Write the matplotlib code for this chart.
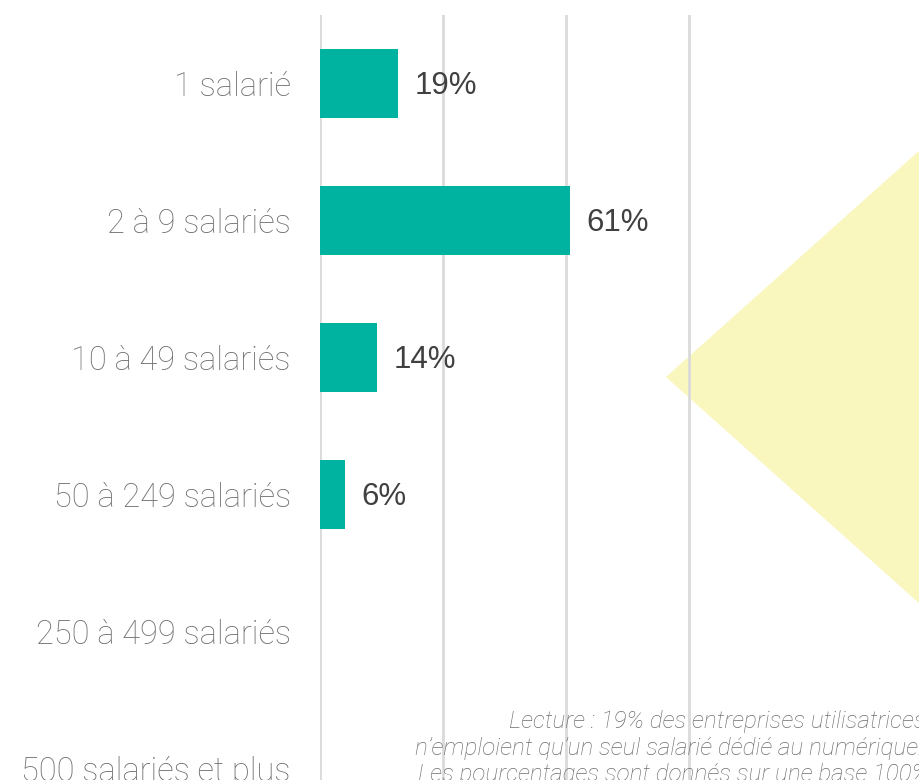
import matplotlib
matplotlib.use("Agg")
import matplotlib.pyplot as plt
from matplotlib.patches import Polygon

categories = ["1 salarié", "2 à 9 salariés", "10 à 49 salariés", "50 à 249 salariés",
              "250 à 499 salariés", "500 salariés et plus"]
values = [19, 61, 14, 6, 0, 0]
value_labels = ["19%", "61%", "14%", "6%", "", ""]
grid_ticks = [0, 30, 60, 90]
note_lines = ["Lecture : 19% des entreprises utilisatrices de la plateforme",
              "n’emploient qu’un seul salarié dédié au numérique.",
              "Les pourcentages sont donnés sur une base 100% des répondants"]

W, H = 920, 780
fig = plt.figure(figsize=(W / 100, H / 100), dpi=100)

# decorative yellow diamond (figure coords, behind axes)
cx, cy = 666, 377
diamond = Polygon([(cx / W, 1 - cy / H),
                   ((cx + 254) / W, 1 - (cy - 227) / H),
                   ((cx + 508) / W, 1 - cy / H),
                   ((cx + 254) / W, 1 - (cy + 227) / H)],
                  closed=True, transform=fig.transFigure, facecolor="#F9F6BE",
                  edgecolor="none", zorder=-5)
fig.patches.append(diamond)

# axes: x0 at 320px, 30% = 123px; top at 15px, 137px per category
x0_px, px_per = 320, 123 / 30
xmax = 100
ax_left = x0_px / W
ax_width = (xmax * px_per) / W
top_px = 15
slot = 137
ax_top = 1 - top_px / H
ax_height = len(categories) * slot / H
ax = fig.add_axes([ax_left, ax_top - ax_height, ax_width, ax_height])
ax.set_facecolor("none")
ax.patch.set_alpha(0)

y = list(range(len(categories)))
ax.barh(y, values, height=0.5, color="#00B2A0", zorder=3)
ax.set_ylim(len(categories) - 0.5, -0.5)
ax.set_xlim(0, xmax)

for yi, v, lab in zip(y, values, value_labels):
    if lab:
        ax.annotate(lab, xy=(v, yi), xytext=(12, -2), textcoords="offset points",
                    ha="left", va="center", fontsize=22.5, color="#404040",
                    family=["Liberation Sans", "DejaVu Sans"], zorder=4)

ax.set_xticks(grid_ticks)
ax.set_xticklabels([])
ax.xaxis.grid(True, color="#DADADA", linewidth=2, zorder=1)
ax.tick_params(axis="x", length=0)
ax.set_yticks(y)
ax.set_yticklabels(categories, fontsize=23.5, color="#707070",
                   family=["Roboto", "DejaVu Sans"], fontweight="light")
ax.tick_params(axis="y", length=0, pad=21)
for s in ax.spines.values():
    s.set_visible(False)

# note text
note_pos = [(509, 721), (415, 748), (418, 775)]
for (px, py), line in zip(note_pos, note_lines):
    fig.text(px / W, 1 - py / H, line, ha="left", va="center", fontsize=17.5,
             style="italic", fontweight="light", color="#6E6E6E",
             family=["Roboto", "DejaVu Sans"])

fig.savefig("out.png", dpi=100)
